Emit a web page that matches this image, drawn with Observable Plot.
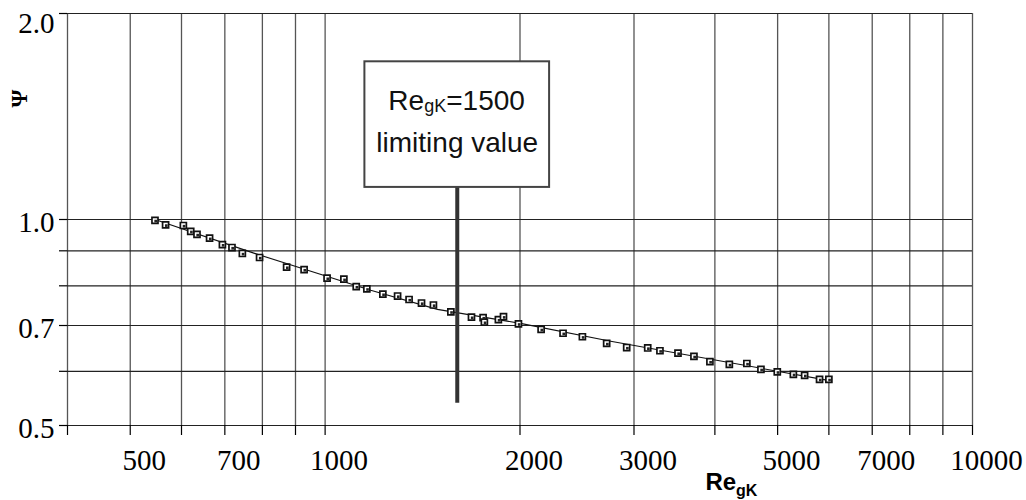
<!DOCTYPE html>
<html><head><meta charset="utf-8">
<script src="https://cdn.jsdelivr.net/npm/d3@7"></script>
<script src="https://cdn.jsdelivr.net/npm/@observablehq/plot@0.6"></script>
<style>body{margin:0;background:#fff;} #chart svg{display:block;}</style>
</head><body><div id="chart"></div>
<script>
// Grid / tick values
const xGrid = [400, 500, 600, 700, 800, 900, 1000, 2000, 3000, 4000, 5000, 6000, 7000, 8000, 9000, 10000];
const xLabels = [500, 700, 1000, 2000, 3000, 5000, 7000, 10000];
const yGrid = [0.5, 0.6, 0.7, 0.8, 0.9, 1.0, 2.0];
const yLabels = [0.5, 0.7, 1.0];
const yTopLabel = [2.0];

// Measured points (Re_gK, Psi)
const reValues = [546, 567, 604, 620, 634, 663, 694, 718, 745, 792, 872, 928, 1007, 1069, 1117, 1160,
  1228, 1294, 1348, 1409, 1470, 1564, 1683, 1754, 1762, 1852, 1886, 1989, 2156, 2331, 2497, 2722,
  2923, 3150, 3290, 3508, 3713, 3930, 4211, 4482, 4712, 4994, 5288, 5504, 5804, 6000];
const psiValues = [0.997, 0.982, 0.980, 0.961, 0.951, 0.939, 0.919, 0.910, 0.892, 0.880, 0.852, 0.845, 0.821, 0.818, 0.798, 0.792,
  0.778, 0.773, 0.764, 0.755, 0.750, 0.733, 0.720, 0.719, 0.708, 0.714, 0.721, 0.704, 0.691, 0.682, 0.674, 0.659,
  0.650, 0.649, 0.643, 0.638, 0.631, 0.620, 0.614, 0.616, 0.604, 0.599, 0.594, 0.592, 0.584, 0.584];

// Fitted curve
const fitRe = [546, 776, 1176, 1491, 2003, 2761, 5984];
const fitPsi = [1.0, 0.893, 0.788, 0.739, 0.705, 0.664, 0.582];

// Limiting value annotation
const limitRe = [1600];
const limitPsi = [0.539, 1.114];
const boxRe = [1152, 2222];
const boxPsi = [1.114, 1.70];

const points = reValues.map((re, i) => ({re, psi: psiValues[i]}));
const fit = fitRe.map((re, i) => ({re, psi: fitPsi[i]}));
const box = [{x1: boxRe[0], x2: boxRe[1], y1: boxPsi[0], y2: boxPsi[1]}];
const limit = [{x: limitRe[0], y1: limitPsi[0], y2: limitPsi[1]}];

const sans = "'Liberation Sans', Arial, sans-serif";
const serif = "'Liberation Serif', 'Times New Roman', serif";

const chart = Plot.plot({
  width: 1026, height: 500,
  marginLeft: 67, marginRight: 54, marginTop: 13, marginBottom: 75,
  x: {type: "log", domain: [400, 10000]},
  y: {type: "log", domain: [0.5, 2]},
  style: {fontFamily: serif, fontSize: "29px", color: "#000", background: "#fff", overflow: "visible"},
  marks: [
    Plot.ruleX(xGrid, {stroke: "#555", strokeWidth: 1.3}),
    Plot.ruleY(yGrid, {stroke: "#222", strokeWidth: 1.2}),
    Plot.axisX(xGrid, {tickSize: 10, tickFormat: () => "", label: null, strokeWidth: 1.2}),
    Plot.axisX(xLabels, {tickSize: 0, tickPadding: 24, dx: 14, tickFormat: d => String(d), label: null, fontSize: 29}),
    Plot.axisY(yGrid, {tickSize: 8, tickFormat: () => "", label: null, strokeWidth: 1.2}),
    Plot.axisY(yLabels, {tickSize: 0, tickPadding: 13, dy: 3, tickFormat: d3.format(".1f"), label: null, fontSize: 29}),
    Plot.axisY(yTopLabel, {tickSize: 0, tickPadding: 13, dy: 10, tickFormat: d3.format(".1f"), label: null, fontSize: 29}),
    Plot.line(fit, {x: "re", y: "psi", stroke: "#111", strokeWidth: 1.1}),
    Plot.dot(points, {x: "re", y: "psi", symbol: "square", r: 3.4, fill: "#fff", stroke: "#111", strokeWidth: 1.7}),
    Plot.dot(points, {x: "re", y: "psi", symbol: "square", r: 1.5, fill: "#222", dx: 0.7, dy: 0.7}),
    Plot.ruleX(limit, {x: "x", y1: "y1", y2: "y2", stroke: "#333", strokeWidth: 4}),
    Plot.rect(box, {x1: "x1", x2: "x2", y1: "y1", y2: "y2", fill: "#fff", stroke: "#444", strokeWidth: 2}),
    Plot.text(["Re"], {x: limitRe[0], y: boxPsi[1], lineAnchor: "top", textAnchor: "start", dx: -69, dy: 28, fontFamily: sans, fontSize: 28, fill: "#111"}),
    Plot.text(["gK"], {x: limitRe[0], y: boxPsi[1], lineAnchor: "top", textAnchor: "start", dx: -33, dy: 37.5, fontFamily: sans, fontSize: 18, fill: "#111"}),
    Plot.text(["=1500"], {x: limitRe[0], y: boxPsi[1], lineAnchor: "top", textAnchor: "start", dx: -11, dy: 28, fontFamily: sans, fontSize: 28, fill: "#111"}),
    Plot.text(["limiting value"], {x: limitRe[0], y: boxPsi[1], lineAnchor: "top", textAnchor: "middle", dx: 0, dy: 70, fontFamily: sans, fontSize: 28, fill: "#111"}),
    Plot.text(["Ψ"], {frameAnchor: "left", dx: -48, dy: -112, rotate: -90, fontFamily: serif, fontWeight: "bold", fontSize: 23, fill: "#000"}),
    Plot.text(["Re"], {frameAnchor: "bottom", textAnchor: "start", lineAnchor: "middle", dx: 185.5, dy: 57, fontFamily: sans, fontWeight: "bold", fontSize: 24, fill: "#000"}),
    Plot.text(["gK"], {frameAnchor: "bottom", textAnchor: "start", lineAnchor: "middle", dx: 216, dy: 65, fontFamily: sans, fontWeight: "bold", fontSize: 16, fill: "#000"})
  ]
});
document.getElementById("chart").appendChild(chart);
</script>
</body></html>
